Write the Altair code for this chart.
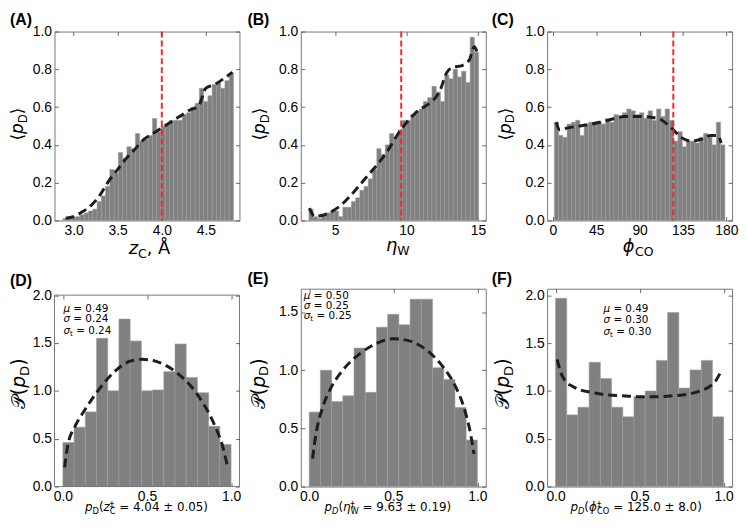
import altair as alt
import pandas as pd

# ---------------- data ----------------
# (A) <p_D> vs z_C  (40 bins)
A_bin_start = 2.88
A_bin_width = 0.0483
A_vals = [0.01, 0.01, 0.015, 0.02, 0.03, 0.04, 0.05, 0.06, 0.10, 0.13,
          0.18, 0.27, 0.25, 0.36, 0.33, 0.39, 0.38, 0.46, 0.42, 0.43,
          0.45, 0.54, 0.47, 0.50, 0.51, 0.53, 0.53, 0.53, 0.56, 0.57,
          0.60, 0.62, 0.70, 0.63, 0.66, 0.72, 0.73, 0.70, 0.74, 0.78]
A_curve_x = [2.91, 3.0, 3.08, 3.2, 3.3, 3.4, 3.5, 3.6, 3.7, 3.8, 3.9, 4.0,
             4.1, 4.2, 4.3, 4.42, 4.5, 4.6, 4.7, 4.8]
A_curve_y = [0.012, 0.02, 0.04, 0.08, 0.135, 0.21, 0.27, 0.33, 0.38, 0.43,
             0.46, 0.49, 0.52, 0.55, 0.58, 0.61, 0.70, 0.72, 0.75, 0.785]
A_threshold = [4.0]

# (B) <p_D> vs eta_W  (40 bins)
B_bin_start = 3.17
B_bin_width = 0.297
B_vals = [0.06, 0.02, 0.01, 0.03, 0.04, 0.05, 0.05, 0.02, 0.07, 0.07,
          0.10, 0.12, 0.16, 0.18, 0.22, 0.27, 0.38, 0.35, 0.40, 0.46,
          0.44, 0.48, 0.53, 0.53, 0.56, 0.58, 0.59, 0.63, 0.65, 0.71,
          0.68, 0.63, 0.77, 0.75, 0.80, 0.76, 0.79, 0.73, 0.97, 0.89]
B_curve_x = [3.2, 3.6, 4.0, 4.7, 5.4, 6.3, 7.2, 8.0, 8.6, 9.6, 10.5, 12.3,
             12.8, 13.2, 13.9, 14.4, 14.75, 14.95]
B_curve_y = [0.065, 0.02, 0.025, 0.045, 0.08, 0.15, 0.23, 0.30, 0.36, 0.48,
             0.56, 0.68, 0.78, 0.81, 0.82, 0.85, 0.92, 0.89]
B_threshold = [9.63]

# (C) <p_D> vs phi_CO  (40 bins)
C_bin_start = 1.5
C_bin_width = 4.425
C_vals = [0.52, 0.45, 0.44, 0.51, 0.52, 0.53, 0.45, 0.51, 0.52, 0.51,
          0.52, 0.51, 0.54, 0.52, 0.56, 0.55, 0.57, 0.59, 0.58, 0.56,
          0.57, 0.54, 0.58, 0.53, 0.59, 0.55, 0.59, 0.53, 0.42, 0.47,
          0.39, 0.42, 0.42, 0.41, 0.44, 0.46, 0.44, 0.40, 0.52, 0.40]
C_curve_x = [3.5, 6.9, 15.6, 39.8, 57, 74, 91.7, 109, 123, 133, 143.6, 154,
             164, 171, 174.7]
C_curve_y = [0.52, 0.48, 0.49, 0.51, 0.53, 0.55, 0.55, 0.54, 0.49, 0.44,
             0.42, 0.43, 0.45, 0.45, 0.41]
C_threshold = [125.0]

# bottom row: distributions of p_D (15 bins on [0, 1])
P_bin_start = 0.0
P_bin_width = 1.0 / 15
D_vals = [0.46, 0.62, 0.78, 1.55, 1.00, 1.75, 1.52, 1.00, 1.01, 1.20,
          1.49, 1.14, 0.98, 0.63, 0.44]
D_curve_x = [0.01, 0.03, 0.07, 0.13, 0.2, 0.3, 0.4, 0.47, 0.55, 0.67, 0.8,
             0.9, 0.95, 0.98]
D_curve_y = [0.2, 0.44, 0.62, 0.80, 0.98, 1.19, 1.31, 1.33, 1.31, 1.2, 0.96,
             0.65, 0.42, 0.2]
D_stats = ["0.49", "0.24", "0.24"]

E_vals = [0.64, 1.00, 0.73, 0.78, 1.19, 0.81, 1.37, 1.48, 1.39, 1.61,
          1.61, 1.02, 0.92, 0.68, 0.40]
E_curve_x = [0.02, 0.04, 0.08, 0.13, 0.2, 0.3, 0.4, 0.5, 0.6, 0.7, 0.8,
             0.87, 0.92, 0.96, 0.98]
E_curve_y = [0.24, 0.45, 0.68, 0.85, 1.0, 1.14, 1.23, 1.27, 1.25, 1.17,
             1.02, 0.86, 0.68, 0.45, 0.28]
E_stats = ["0.50", "0.25", "0.25"]

F_vals = [1.97, 0.75, 0.83, 1.30, 1.13, 0.83, 0.73, 0.94, 1.00, 1.32,
          1.82, 1.03, 1.22, 1.32, 0.73]
F_curve_x = [0.01, 0.03, 0.06, 0.1, 0.15, 0.2, 0.3, 0.4, 0.5, 0.6, 0.7,
             0.8, 0.86, 0.91, 0.95, 0.98]
F_curve_y = [1.33, 1.2, 1.10, 1.05, 1.01, 0.99, 0.96, 0.95, 0.94, 0.94,
             0.95, 0.97, 1.0, 1.04, 1.1, 1.19]
F_stats = ["0.49", "0.30", "0.30"]

# tick labels
A_xticks = [3.0, 3.5, 4.0, 4.5]
B_xticks = [5, 10, 15]
C_xticks = [0, 45, 90, 135, 180]
top_yticks = [0.0, 0.2, 0.4, 0.6, 0.8, 1.0]
P_xticks = [0.0, 0.5, 1.0]
D_yticks = [0.0, 0.5, 1.0, 1.5, 2.0]
E_yticks = [0.0, 0.5, 1.0, 1.5]
F_yticks = [0.0, 0.5, 1.0, 1.5, 2.0]

# ---------------- styling ----------------
MATH = "DejaVu Sans"
LAB = "Liberation Sans"
BAR = "#808080"
EDGE = "#9c9c9c"
CURVE = "#1e1e1e"
RED = "#ee2b2b"
FRAME = "#777777"
TICK = "#444444"
W = 187
H_TOP = 191
H_BOT = 200

DJW = {' ': 651, '(': 799, ')': 799, ',': 651, '.': 651, '=': 1716,
       '±': 1716, 'A': 1401, 'Å': 1401, 'C': 1430, 'D': 1577, 'O': 1612,
       'W': 2025, 'p': 1300, 't': 803, 'z': 1075, '‡': 1024, 'μ': 1300,
       'σ': 1300, 'η': 1300, 'ϕ': 1400, '⟨': 799, '⟩': 799, '𝒫': 1500}

ONE = pd.DataFrame({"k": [0]})


def tw(s, size):
    return sum(DJW.get(ch, 1303) for ch in s) / 2048.0 * size


def gap(size):
    # empty segment that only advances by one space width
    return ("", size, False, 0, tw(" ", size))


def txt(s, x, y, size, italic=False, angle=0, align="left",
        baseline="alphabetic", font=MATH, bold=False):
    kw = dict(text=s, font=font, fontSize=size, align=align,
              baseline=baseline, color="black")
    if italic:
        kw["fontStyle"] = "italic"
    if bold:
        kw["fontWeight"] = "bold"
    if angle:
        kw["angle"] = angle
    return alt.Chart(ONE).mark_text(**kw).encode(x=alt.value(x), y=alt.value(y))


def layout(segs):
    out, pos = [], 0.0
    for s in segs:
        text, size, it, shift = s[:4]
        adv = s[4] if len(s) > 4 else tw(text, size)
        if text:
            out.append((text, size, it, shift, pos))
        pos += adv
    return out, pos


def htitle(segs, cx, by):
    lay, total = layout(segs)
    x0 = cx - total / 2
    return [txt(t, x0 + p, by + sh, sz, it) for t, sz, it, sh, p in lay]


def hline(segs, x0, by):
    lay, _ = layout(segs)
    return [txt(t, x0 + p, by + sh, sz, it) for t, sz, it, sh, p in lay]


def vtitle(segs, bx, cy):
    lay, total = layout(segs)
    y0 = cy + total / 2
    return [txt(t, bx + sh, y0 - p, sz, it, angle=270) for t, sz, it, sh, p in lay]


def annot(x, centers, vals):
    S = 10.5
    lines = [
        [("μ", S, True, 0), gap(S), ("= " + vals[0], S, False, 0)],
        [("σ", S, True, 0), gap(S), ("= " + vals[1], S, False, 0)],
        [("σ", S, True, 0), ("t", 0.7 * S, False, 0.2 * S), gap(S),
         ("= " + vals[2], S, False, 0)],
    ]
    out = []
    for segs, yc in zip(lines, centers):
        out += hline(segs, x, yc + 0.35 * S)
    return out


def panel(H, start, width, vals, cx, cy, xdom, ydom, xticks, xfmt, yticks,
          yfmt, thr=None, extra=(), ytop=0):
    x0 = [start + i * width for i in range(len(vals))]
    x1 = [v + width for v in x0]
    bdf = pd.DataFrame({"x0": x0, "x1": x1, "v": vals})
    cdf = pd.DataFrame({"x": cx, "y": cy})
    xs = alt.Scale(domain=xdom, nice=False, zero=False)
    if ytop:
        ys = alt.Scale(domain=ydom, nice=False, zero=False, range=[H, ytop])
    else:
        ys = alt.Scale(domain=ydom, nice=False, zero=False)
    common = dict(domain=False, grid=False, title=None, tickSize=4,
                  tickColor=TICK, tickWidth=0.8)
    ax_b = alt.Axis(orient="bottom", values=xticks, format=xfmt, offset=-4,
                    labelFont=LAB, labelFontSize=14, labelColor="black",
                    labelPadding=3, labelFlush=False, **common)
    ax_l = alt.Axis(orient="left", values=yticks, format=yfmt, offset=-4,
                    labelFont=LAB, labelFontSize=14, labelColor="black",
                    labelPadding=3, labelFlush=False, **common)
    ax_t = alt.Axis(orient="top", values=xticks, labels=False,
                    offset=-(4 + ytop), zindex=1, **common)
    ax_r = alt.Axis(orient="right", values=yticks, labels=False, offset=-4,
                    zindex=1, **common)
    bars = alt.Chart(bdf).mark_bar(fill=BAR, stroke=EDGE, strokeWidth=0.6).encode(
        x=alt.X("x0:Q", scale=xs, axis=ax_b), x2="x1:Q",
        y=alt.Y("v:Q", scale=ys, axis=ax_l), y2=alt.datum(0))
    ticks = alt.Chart(bdf).mark_point(opacity=0).encode(
        x=alt.X("x0:Q", scale=xs, axis=ax_t),
        y=alt.Y("v:Q", scale=ys, axis=ax_r))
    line = alt.Chart(cdf).mark_line(color=CURVE, strokeWidth=3,
                                    strokeDash=[9, 5], interpolate="monotone").encode(
        x=alt.X("x:Q", scale=xs, axis=None), y=alt.Y("y:Q", scale=ys, axis=None))
    layers = [bars, ticks, line]
    if thr is not None:
        layers.append(alt.Chart(pd.DataFrame({"t": thr})).mark_rule(
            color=RED, strokeWidth=2, strokeDash=[6, 3]).encode(
            x=alt.X("t:Q", scale=xs, axis=None)))
    if ytop:
        layers.append(alt.Chart(ONE).mark_rect(
            fillOpacity=0, stroke=FRAME, strokeWidth=1).encode(
            x=alt.value(0), x2=alt.value(W), y=alt.value(ytop), y2=alt.value(H)))
    layers += list(extra)
    ch = alt.layer(*layers).resolve_axis(x="independent", y="independent")
    if ytop:
        ch = ch.properties(width=W, height=H, view=alt.ViewBackground(strokeOpacity=0))
    else:
        ch = ch.properties(width=W, height=H)
    return ch


# ---------------- titles ----------------
def ytop_title(bx):
    S = 17
    return vtitle([("⟨", S, False, 0), ("p", S, True, 0),
                   ("D", 0.7 * S, False, 0.2 * S), ("⟩", S, False, 0)], bx, H_TOP / 2 - 2)


def ybot_title(bx):
    S = 19
    return vtitle([("𝒫", S, False, 0), ("(", S, False, 0), ("p", S, True, 0),
                   ("D", 0.7 * S, False, 0.2 * S), (")", S, False, 0)], bx, 96)


def bot_xtitle(var, sub, rest, cx, d_italic):
    S = 12
    return htitle([("p", S, True, 0), ("D", 0.7 * S, d_italic, 0.2 * S),
                   ("(", S, False, 0), (var, S, True, 0),
                   ("‡", 0.7 * S, False, -0.3 * S, 0),
                   (sub, 0.7 * S, False, 0.25 * S), gap(S),
                   (rest, S, False, 0)], cx, H_BOT + 25)


ST = 18
A_extra = ([txt("(A)", -45, -20, 16, font=LAB, bold=True, baseline="top")]
           + ytop_title(-31.5)
           + htitle([("z", ST, True, 0), ("C", 0.7 * ST, False, 0.2 * ST),
                     (",", ST, False, 0), gap(ST), ("Å", ST, False, 0)], 96, H_TOP + 34))
B_extra = ([txt("(B)", -54, -20, 16, font=LAB, bold=True, baseline="top")]
           + ytop_title(-36)
           + htitle([("η", ST, True, 0), ("W", 0.7 * ST, False, 0.2 * ST)], 98, H_TOP + 31))
C_extra = ([txt("(C)", -56, -20, 16, font=LAB, bold=True, baseline="top")]
           + ytop_title(-37)
           + htitle([("ϕ", ST, True, 0), ("CO", 0.7 * ST, False, 0.2 * ST)], 92, H_TOP + 32))

D_extra = ([txt("(D)", -45, -16, 16, font=LAB, bold=True, baseline="top")]
           + ybot_title(-30)
           + bot_xtitle("z", "C", "= 4.04 ± 0.05)", 93, False)
           + annot(9, [19.7, 30.3, 42], D_stats))
E_extra = ([txt("(E)", -54, -18, 16, font=LAB, bold=True, baseline="top")]
           + ybot_title(-36.5)
           + bot_xtitle("η", "W", "= 9.63 ± 0.19)", 88, True)
           + annot(3, [7, 16.5, 27], E_stats))
F_extra = ([txt("(F)", -56, -18, 16, font=LAB, bold=True, baseline="top")]
           + ybot_title(-38.5)
           + bot_xtitle("ϕ", "CO", "= 125.0 ± 8.0)", 90, True)
           + annot(57, [19.7, 31, 42.7], F_stats))

pA = panel(H_TOP, A_bin_start, A_bin_width, A_vals, A_curve_x, A_curve_y,
           [2.784, 4.88], [0, 1], A_xticks, ".1f", top_yticks, ".1f",
           thr=A_threshold, extra=A_extra)
pB = panel(H_TOP, B_bin_start, B_bin_width, B_vals, B_curve_x, B_curve_y,
           [2.6, 15.55], [0, 1], B_xticks, "d", top_yticks, ".1f",
           thr=B_threshold, extra=B_extra)
pC = panel(H_TOP, C_bin_start, C_bin_width, C_vals, C_curve_x, C_curve_y,
           [-6, 186], [0, 1], C_xticks, "d", top_yticks, ".1f",
           thr=C_threshold, extra=C_extra)
pD = panel(H_BOT, P_bin_start, P_bin_width, D_vals, D_curve_x, D_curve_y,
           [-0.05, 1.05], [0, 2.0], P_xticks, ".1f", D_yticks, ".1f",
           extra=D_extra, ytop=6.5)
pE = panel(H_BOT, P_bin_start, P_bin_width, E_vals, E_curve_x, E_curve_y,
           [-0.05, 1.05], [0, 1.7], P_xticks, ".1f", E_yticks, ".1f",
           extra=E_extra)
pF = panel(H_BOT, P_bin_start, P_bin_width, F_vals, F_curve_x, F_curve_y,
           [-0.05, 1.05], [0, 2.07], P_xticks, ".1f", F_yticks, ".1f",
           extra=F_extra)

chart = alt.concat(pA, pB, pC, pD, pE, pF, columns=3,
                   spacing={"row": 69, "column": 62},
                   bounds="flush", align="each").properties(
    padding=0
).configure_view(stroke=FRAME, strokeWidth=1)

chart.save("out.html", embed_options={"renderer": "svg", "actions": False})
